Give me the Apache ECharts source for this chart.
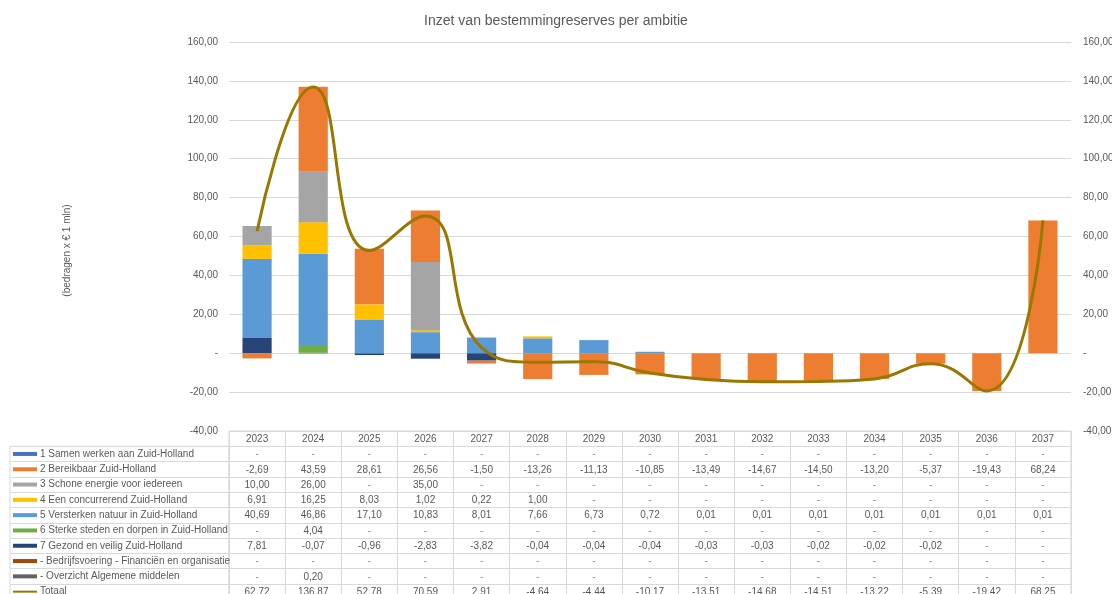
<!DOCTYPE html>
<html>
<head>
<meta charset="utf-8">
<script src="https://cdn.jsdelivr.net/npm/echarts@6/dist/echarts.min.js"></script>
<style>
  html, body { margin: 0; padding: 0; background: #fff; }
  #chart { width: 1112px; height: 594px; }
</style>
</head>
<body>
<div id="chart"></div>
<script>
var years = ['2023','2024','2025','2026','2027','2028','2029','2030','2031','2032','2033','2034','2035','2036','2037'];

var rowNames = [
  '1 Samen werken aan Zuid-Holland',
  '2 Bereikbaar Zuid-Holland',
  '3 Schone energie voor iedereen',
  '4 Een concurrerend Zuid-Holland',
  '5 Versterken natuur in Zuid-Holland',
  '6 Sterke steden en dorpen in Zuid-Holland',
  '7 Gezond en veilig Zuid-Holland',
  '- Bedrijfsvoering - Financiën en organisatie',
  '- Overzicht Algemene middelen',
  'Totaal'
];
var rowColors = ['#4472c4','#ed7d31','#a5a5a5','#ffc000','#5b9bd5','#70ad47','#264478','#9e480e','#636363','#9a7700'];

var samenWerken   = [null,null,null,null,null,null,null,null,null,null,null,null,null,null,null];
var bereikbaar    = [-2.69,43.59,28.61,26.56,-1.50,-13.26,-11.13,-10.85,-13.49,-14.67,-14.50,-13.20,-5.37,-19.43,68.24];
var schoneEnergie = [10.00,26.00,null,35.00,null,null,null,null,null,null,null,null,null,null,null];
var concurrerend  = [6.91,16.25,8.03,1.02,0.22,1.00,null,null,null,null,null,null,null,null,null];
var natuur        = [40.69,46.86,17.10,10.83,8.01,7.66,6.73,0.72,0.01,0.01,0.01,0.01,0.01,0.01,0.01];
var sterkeSteden  = [null,4.04,null,null,null,null,null,null,null,null,null,null,null,null,null];
var gezondVeilig  = [7.81,-0.07,-0.96,-2.83,-3.82,-0.04,-0.04,-0.04,-0.03,-0.03,-0.02,-0.02,-0.02,null,null];
var bedrijfsvoering = [null,null,null,null,null,null,null,null,null,null,null,null,null,null,null];
var algMiddelen   = [null,0.20,null,null,null,null,null,null,null,null,null,null,null,null,null];
var totaal        = [62.72,136.87,52.78,70.59,2.91,-4.64,-4.44,-10.17,-13.51,-14.68,-14.51,-13.22,-5.39,-19.42,68.25];

var rows = [samenWerken, bereikbaar, schoneEnergie, concurrerend, natuur, sterkeSteden, gezondVeilig, bedrijfsvoering, algMiddelen, totaal];

var FONT = 'Liberation Sans, Arial, sans-serif';
var TXT = '#595959';
var LINE = '#d9d9d9';

function fmt(v) {
  if (v === null || v === undefined) return '-';
  return v.toFixed(2).replace('.', ',');
}
function axisFmt(v) {
  if (v === 0) return '-';
  return v.toFixed(2).replace('.', ',');
}

// table cells: [col, row, text]
var tableRows = ['hdr'].concat(rowNames);
var cellData = [];
for (var c = 0; c < years.length; c++) {
  cellData.push([c, 0, years[c]]);
  for (var r = 0; r < rows.length; r++) {
    cellData.push([c, r + 1, fmt(rows[r][c])]);
  }
}

// rich styles for the row swatches
var rich = { t: { color: TXT, fontSize: 10, fontFamily: FONT, padding: [0, 0, 0, 3] } };
for (var i = 0; i < rowColors.length; i++) {
  rich['s' + i] = { backgroundColor: rowColors[i], width: 24, height: i === 9 ? 2 : 4 };
}

var myChart = echarts.init(document.getElementById('chart'));

// stacking order in the chart is the reverse of the table order
var barSeries = [];
for (var k = 8; k >= 0; k--) {
  barSeries.push({
    name: rowNames[k],
    type: 'bar',
    stack: 'a',
    xAxisIndex: 0,
    yAxisIndex: 0,
    barWidth: '52%',
    itemStyle: { color: rowColors[k] },
    data: rows[k]
  });
}

var option = {
  animation: false,
  backgroundColor: '#fff',
  title: {
    text: 'Inzet van bestemmingreserves per ambitie',
    left: 'center',
    top: 9,
    textStyle: { color: TXT, fontSize: 14, fontWeight: 'normal', fontFamily: FONT }
  },
  grid: [
    { left: 229, right: 41, top: 42, height: 389, outerBoundsMode: 'none' },
    { left: 10, width: 219, top: 446.3, height: 153, show: true, borderColor: LINE, borderWidth: 1, outerBoundsMode: 'none' },
    { left: 229, right: 41, top: 431, height: 168.3, show: true, borderColor: LINE, borderWidth: 1, outerBoundsMode: 'none' }
  ],
  xAxis: [
    { type: 'category', gridIndex: 0, data: years, show: false },
    { type: 'value', gridIndex: 1, show: false, min: 0, max: 1 },
    {
      type: 'category', gridIndex: 2, data: years,
      axisLine: { show: false }, axisTick: { show: false }, axisLabel: { show: false, interval: 0 },
      splitLine: { show: true, interval: 0, lineStyle: { color: LINE } }
    }
  ],
  yAxis: [
    {
      type: 'value', gridIndex: 0, min: -40, max: 160, interval: 20,
      name: '(bedragen x € 1 mln)', nameLocation: 'middle', nameGap: 157, nameRotate: 90,
      nameTextStyle: { color: TXT, fontSize: 10, fontFamily: FONT, padding: [0, 28, 0, 0] },
      axisLine: { show: false }, axisTick: { show: false },
      axisLabel: { formatter: axisFmt, color: TXT, fontSize: 10, fontFamily: FONT, margin: 11 },
      splitLine: { lineStyle: { color: LINE } }
    },
    {
      type: 'value', gridIndex: 0, min: -40, max: 160, interval: 20, position: 'right',
      axisLine: { show: false }, axisTick: { show: false },
      axisLabel: { formatter: axisFmt, color: TXT, fontSize: 10, fontFamily: FONT, margin: 12 },
      splitLine: { show: false }
    },
    {
      type: 'category', gridIndex: 1, data: rowNames, inverse: true,
      axisLine: { show: false }, axisTick: { show: false },
      axisLabel: {
        inside: true, margin: 3, interval: 0,
        formatter: function (val, idx) { return '{s' + idx + '|}{t|' + val + '}'; },
        rich: rich
      },
      splitLine: { show: true, interval: 0, lineStyle: { color: LINE } }
    },
    {
      type: 'category', gridIndex: 2, data: tableRows, inverse: true,
      axisLine: { show: false }, axisTick: { show: false }, axisLabel: { show: false, interval: 0 },
      splitLine: { show: true, interval: 0, lineStyle: { color: LINE } }
    }
  ],
  series: barSeries.concat([
    {
      name: 'Totaal',
      type: 'line',
      xAxisIndex: 0,
      yAxisIndex: 1,
      smooth: 0.5,
      symbol: 'none',
      lineStyle: { color: '#9a7700', width: 3 },
      itemStyle: { color: '#9a7700' },
      data: totaal,
      z: 5
    },
    {
      type: 'custom',
      xAxisIndex: 2,
      yAxisIndex: 3,
      silent: true,
      data: cellData,
      renderItem: function (params, api) {
        var p = api.coord([api.value(0), api.value(1)]);
        var txt = cellData[params.dataIndex][2];
        return {
          type: 'text',
          x: p[0],
          y: p[1] + 0.5,
          style: {
            text: txt,
            textAlign: 'center',
            textVerticalAlign: 'middle',
            fill: txt === '-' ? '#8c8c8c' : TXT,
            fontSize: 10,
            fontFamily: FONT
          }
        };
      }
    }
  ])
};

myChart.setOption(option);
</script>
</body>
</html>
